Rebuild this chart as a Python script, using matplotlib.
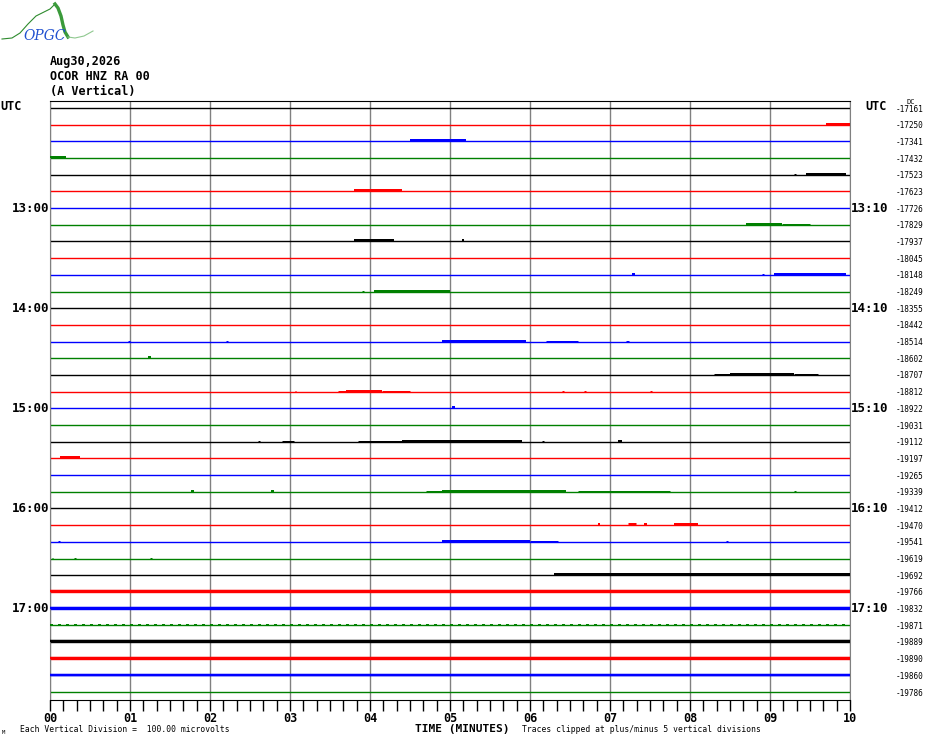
import matplotlib
matplotlib.use("Agg")
import matplotlib.pyplot as plt

# helicorder: 36 lines of 10 minutes, 12:00 -> 17:50 UTC
station_date = "Aug30,2026"
station_code = "OCOR HNZ RA 00"
component = "(A Vertical)"
n_lines = 36
line_colors = ["black", "red", "blue", "green"]
dc_offsets = [-17161, -17250, -17341, -17432, -17523, -17623, -17726, -17829, -17937,
              -18045, -18148, -18249, -18355, -18442, -18514, -18602, -18707, -18812,
              -18922, -19031, -19112, -19197, -19265, -19339, -19412, -19470, -19541,
              -19619, -19692, -19766, -19832, -19871, -19889, -19890, -19860, -19786]
left_hours = ["13:00", "14:00", "15:00", "16:00", "17:00"]
right_hours = ["13:10", "14:10", "15:10", "16:10", "17:10"]
hour_rows = [6, 12, 18, 24, 30]
minute_labels = ["00", "01", "02", "03", "04", "05", "06", "07", "08", "09", "10"]

# bursts of signal: (line, start minute, end minute, thickness px)
bursts = [
    (0, 0.2, 0.3, 1),
    (1, 9.7, 10.0, 2),
    (2, 4.3, 4.35, 1), (2, 4.5, 5.2, 2), (2, 5.35, 5.38, 1), (2, 6.16, 6.2, 1), (2, 6.28, 6.3, 1),
    (3, 0.0, 0.2, 2),
    (4, 9.3, 9.33, 1), (4, 9.45, 9.95, 2),
    (5, 2.8, 2.82, 1), (5, 3.4, 3.42, 1), (5, 3.65, 3.8, 1), (5, 3.8, 4.4, 2),
    (7, 8.7, 9.15, 2), (7, 9.15, 9.5, 1),
    (8, 3.65, 3.67, 1), (8, 3.8, 4.3, 2), (8, 4.3, 4.9, 1), (8, 5.15, 5.18, 2), (8, 5.35, 5.37, 1),
    (10, 7.27, 7.31, 2), (10, 8.9, 8.92, 1), (10, 9.05, 9.95, 2),
    (11, 3.9, 3.93, 1), (11, 4.05, 5.0, 2),
    (14, 0.98, 1.0, 1), (14, 2.2, 2.22, 1), (14, 4.9, 5.95, 2), (14, 6.2, 6.6, 1), (14, 7.2, 7.24, 1),
    (15, 0.04, 0.06, 1), (15, 0.29, 0.31, 1), (15, 1.22, 1.26, 2),
    (16, 8.3, 8.5, 1), (16, 8.5, 9.3, 2), (16, 9.3, 9.6, 1),
    (17, 3.06, 3.08, 1), (17, 3.6, 3.7, 1), (17, 3.7, 4.15, 2), (17, 4.15, 4.5, 1),
    (17, 6.4, 6.42, 1), (17, 6.68, 6.7, 1), (17, 7.5, 7.52, 1),
    (18, 0.06, 0.25, 1), (18, 2.4, 2.44, 1), (18, 5.03, 5.06, 2),
    (19, 4.4, 4.42, 1), (19, 8.76, 8.78, 1), (19, 9.05, 9.07, 1),
    (20, 2.6, 2.62, 1), (20, 2.9, 3.05, 1), (20, 3.85, 4.4, 1), (20, 4.4, 5.9, 2),
    (20, 6.15, 6.17, 1), (20, 7.1, 7.15, 2),
    (21, 0.12, 0.37, 2),
    (22, 7.05, 7.07, 1), (22, 8.02, 8.04, 1), (22, 9.1, 9.12, 1),
    (23, 1.76, 1.8, 2), (23, 2.76, 2.8, 2), (23, 4.7, 4.9, 1), (23, 4.9, 6.45, 2),
    (23, 6.6, 7.75, 1), (23, 9.3, 9.32, 1),
    (24, 0.14, 0.82, 1),
    (25, 6.05, 6.07, 1), (25, 6.85, 6.88, 2), (25, 7.0, 7.02, 1), (25, 7.22, 7.32, 3),
    (25, 7.42, 7.46, 2), (25, 7.8, 8.1, 2), (25, 8.36, 8.38, 1), (25, 9.05, 9.07, 1),
    (25, 9.53, 9.55, 1), (25, 9.85, 9.87, 1),
    (26, 0.1, 0.12, 1), (26, 4.9, 6.0, 2), (26, 6.0, 6.35, 1), (26, 8.45, 8.48, 1),
    (27, 0.02, 0.04, 1), (27, 0.3, 0.32, 1), (27, 1.25, 1.27, 1),
    (28, 5.6, 5.62, 1), (28, 6.3, 10.0, 2),
    (35, 0.15, 0.37, 1), (35, 8.66, 8.68, 1),
]
# lines that are noisy over the whole ten minutes: (line, thickness px)
noisy_lines = [(29, 2.5), (30, 2.5), (31, 2), (32, 2.5), (33, 2.5), (34, 2.5)]

W, H = 930, 744
fig = plt.figure(figsize=(W / 100, H / 100), dpi=100)
mono = "DejaVu Sans Mono"


def fx(x):
    return x / W


def fy(y):
    return 1 - y / H


# plot area: x 50..850, y 101..700 pixels, lines from 108 to 692
ax = fig.add_axes([fx(50), fy(700), 800 / W, 599 / H])
row_px = (692 - 108) / (n_lines - 1)
ax.set_xlim(0, 10)
ax.set_ylim(n_lines - 1 + 8 / row_px, -7 / row_px)

for m in range(11):
    ax.axvline(m, color="#808080", lw=1.0, zorder=1)

px = 72 / 100  # one pixel in points
for i in range(n_lines):
    ax.hlines(i, 0, 10, color=line_colors[i % 4], lw=1.0, zorder=2)

for row, t0, t1, th in bursts:
    ax.hlines(row - 0.5 * th / row_px, t0, t1, color=line_colors[row % 4],
              lw=th * px, zorder=3)

for row, th in noisy_lines:
    c = line_colors[row % 4]
    if c == "green":
        ax.hlines(row - 0.5 / row_px, 0, 10, color=c, lw=th * px,
                  linestyles=(0, (1.5, 2.5)), zorder=3)
    else:
        ax.hlines(row - 0.5 / row_px, 0, 10, color=c, lw=th * px, zorder=3)

ax.set_xticks(range(11))
ax.set_xticklabels(minute_labels, fontfamily=mono, fontweight="bold", fontsize=8.5)
ax.set_xticks([m / 6 for m in range(61)], minor=True)
ax.tick_params(axis="x", which="both", direction="out", length=8, width=1, pad=1)
ax.set_yticks([])
for s in ["left", "right"]:
    ax.spines[s].set_color("#808080")
for s in ["top", "bottom"]:
    ax.spines[s].set_color("black")

# header
fig.text(fx(50), fy(61), station_date, fontfamily=mono, fontweight="bold", fontsize=8.5, va="center")
fig.text(fx(50), fy(76), station_code, fontfamily=mono, fontweight="bold", fontsize=8.5, va="center")
fig.text(fx(50), fy(92), component, fontfamily=mono, fontweight="bold", fontsize=8.5, va="center")
fig.text(fx(0), fy(107), "UTC", fontfamily=mono, fontweight="bold", fontsize=8.5, va="center")
fig.text(fx(865), fy(107), "UTC", fontfamily=mono, fontweight="bold", fontsize=8.5, va="center")
fig.text(fx(906), fy(102), "DC", fontfamily=mono, fontsize=5, va="center")

for lab_l, lab_r, row in zip(left_hours, right_hours, hour_rows):
    y = 108 + row * row_px
    fig.text(fx(31), fy(y), lab_l, fontfamily=mono, fontweight="bold", fontsize=9,
             ha="center", va="center")
    fig.text(fx(870), fy(y), lab_r, fontfamily=mono, fontweight="bold", fontsize=9,
             ha="center", va="center")

for i, v in enumerate(dc_offsets):
    fig.text(fx(910), fy(108 + i * row_px + 1), str(v), fontfamily=mono, fontsize=5.6,
             ha="center", va="center")

# footer
fig.text(fx(20), fy(730), "Each Vertical Division =  100.00 microvolts", fontfamily=mono,
         fontsize=5.8, va="center")
fig.text(fx(2), fy(732), "M", fontfamily=mono, fontsize=4, va="center")
fig.text(fx(462), fy(729), "TIME (MINUTES)", fontfamily=mono, fontweight="bold", fontsize=8,
         ha="center", va="center")
fig.text(fx(522), fy(730), "Traces clipped at plus/minus 5 vertical divisions", fontfamily=mono,
         fontsize=5.8, va="center")

# OPGC logo
logo = fig.add_axes([0, fy(44), 95 / W, 44 / H])
logo.set_xlim(0, 95)
logo.set_ylim(44, 0)
logo.axis("off")
logo.plot([2, 12, 20, 28, 36, 44, 50, 55], [39, 38, 33, 24, 16, 12, 9, 4], color="#2e8b2e", lw=0.8)
logo.plot([55, 58, 61, 63, 65, 68], [4, 8, 16, 25, 32, 37], color="#3a9a3a", lw=2.4)
logo.plot([68, 75, 84, 93], [37, 38, 36, 31], color="#8fc88f", lw=0.8)
logo.text(45, 36, "OPGC", color="#2050d0", fontsize=10, fontstyle="italic",
          fontfamily="DejaVu Serif", ha="center", va="center")

fig.savefig("out.png", dpi=100)
